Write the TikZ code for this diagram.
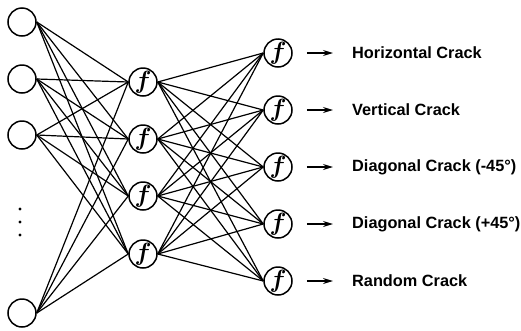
\documentclass[tikz,border=0pt]{standalone}
\usepackage{bm}
\usepackage{fontspec}
\setmainfont{Liberation Sans}
\usetikzlibrary{arrows.meta}
\begin{document}
\begin{tikzpicture}[x=1pt,y=-1pt,
 neuron/.style={circle,draw,line width=1.5pt,minimum size=28pt,inner sep=0pt},
 fneuron/.style={neuron,font=\fontsize{24}{24}\selectfont},
 wire/.style={line width=1.2pt},
 outarrow/.style={line width=1.2pt,-{Stealth[length=10pt,width=6pt]},shorten <=14pt,shorten >=19pt},
 lbl/.style={anchor=west,font=\fontsize{16.3}{20}\selectfont\bfseries,inner sep=0pt}]
\useasboundingbox (0,0) rectangle (521,330);
% inputs
\node[neuron] (i1) at (22,22) {};
\node[neuron] (i2) at (22,79) {};
\node[neuron] (i3) at (22,135) {};
\node[neuron] (i4) at (22,313) {};
\fill (20,209) circle (1.7pt) (20,222) circle (1.7pt) (20,235) circle (1.7pt);
% hidden
\foreach \n/\y in {1/82,2/139,3/196,4/254}
  \node[fneuron] (h\n) at (143,\y) {$\bm{f}$};
% outputs
\foreach \n/\y in {1/53,2/110,3/167,4/224,5/281}
  \node[fneuron] (o\n) at (278,\y) {$\bm{f}$};
% labels
\node[lbl] (t1) at (352,53) {Horizontal Crack};
\node[lbl] (t2) at (352,110) {Vertical Crack};
\node[lbl] (t3) at (352,167) {Diagonal Crack (-45°)};
\node[lbl] (t4) at (352,224) {Diagonal Crack (+45°)};
\node[lbl] (t5) at (352,281) {Random Crack};
% connections
\foreach \i in {1,...,4}
  \foreach \h in {1,...,4}
    \draw[wire] (i\i.east) -- (h\h.west);
\foreach \h in {1,...,4}
  \foreach \o in {1,...,5}
    \draw[wire] (h\h.east) -- (o\o.west);
\foreach \o in {1,...,5}
  \draw[outarrow] (o\o.east) -- (t\o.west);
\end{tikzpicture}
\end{document}
